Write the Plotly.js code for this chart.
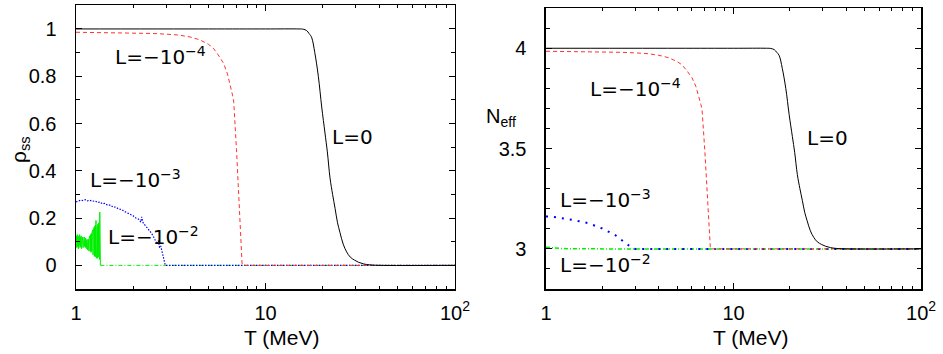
<!DOCTYPE html>
<html><head><meta charset="utf-8">
<script src="https://cdn.plot.ly/plotly-3.0.1.min.js"></script>
<style>html,body{margin:0;padding:0;background:#fff}</style>
</head><body><div id="chart" style="width:943px;height:354px"></div>
<script>
// ---- Left panel: rho_ss vs T ----
const blackT   = [1, 5, 10, 15, 15.8, 16.5, 17.0, 17.5, 18.2, 19.0, 19.8, 20.6, 21.2, 21.9, 22.6, 23.3, 24.0, 24.7, 25.7, 26.8, 28, 29.5, 31, 33, 35.6, 40, 100];
const blackRho = [1.0, 1.0, 1.0, 1.0, 0.999, 0.993, 0.98, 0.965, 0.9, 0.8, 0.67, 0.56, 0.48, 0.37, 0.30, 0.24, 0.18, 0.14, 0.09, 0.057, 0.035, 0.022, 0.013, 0.006, 0.002, 0, 0];

const redT   = [1.0, 1.5, 2.0, 2.5, 3.0, 3.5, 4.0, 4.5, 5.0, 5.3, 5.6, 6.0, 6.3, 6.5, 6.7, 6.8, 6.9, 6.96, 7.03, 7.1, 7.16, 7.22, 7.28, 7.34, 7.40, 7.46, 7.52, 7.56, 10, 20, 50, 100];
const redRho = [0.986, 0.985, 0.983, 0.981, 0.978, 0.974, 0.966, 0.954, 0.935, 0.919, 0.893, 0.855, 0.81, 0.77, 0.72, 0.69, 0.62, 0.56, 0.49, 0.42, 0.35, 0.28, 0.21, 0.14, 0.08, 0.04, 0.01, 0, 0, 0, 0, 0];

const blueT   = [1.00, 1.03, 1.06, 1.09, 1.12, 1.15, 1.18, 1.22, 1.26, 1.30, 1.34, 1.38, 1.42, 1.47, 1.52, 1.57, 1.62, 1.68, 1.74, 1.80, 1.87, 1.94, 2.00, 2.07, 2.14, 2.20, 2.22, 2.26, 2.32, 2.40, 2.48, 2.55, 2.60, 2.64, 2.68, 2.72, 2.76, 2.80, 2.84, 2.87, 2.90, 2.93, 2.96, 3.2, 5, 10, 100];
const blueRho = [0.268, 0.272, 0.276, 0.274, 0.278, 0.273, 0.276, 0.271, 0.273, 0.266, 0.268, 0.260, 0.262, 0.254, 0.255, 0.246, 0.247, 0.238, 0.236, 0.228, 0.222, 0.214, 0.210, 0.200, 0.195, 0.183, 0.205, 0.180, 0.170, 0.155, 0.140, 0.125, 0.112, 0.095, 0.090, 0.105, 0.075, 0.082, 0.060, 0.040, 0.020, 0.005, 0, 0, 0, 0, 0];

const greenT = [1.000,1.005,1.010,1.015,1.020,1.025,1.030,1.035,1.040,1.045,1.050,1.055,1.060,1.065,1.070,1.075,1.080,1.085,1.090,1.095,1.100,1.105,1.110,1.115,1.120,1.125,1.130,1.135,1.140,1.145,1.150,1.155,1.160,1.165,1.170,1.175,1.180,1.185,1.190,1.195,1.200,1.205,1.210,1.215,1.220,1.225,1.230,1.235,1.240,1.245,1.250,1.255,1.260,1.265,1.270,1.275,1.280,1.285,1.290,1.295,1.300,1.305,1.310,1.315,1.320,1.325,1.330,1.335,1.340,1.345,1.5,2,3,5,10,20,50,100];
const greenRho = [0.10,0.125,0.075,0.13,0.08,0.12,0.07,0.125,0.085,0.13,0.075,0.12,0.08,0.125,0.07,0.115,0.08,0.12,0.075,0.115,0.085,0.12,0.08,0.11,0.075,0.115,0.08,0.105,0.07,0.11,0.065,0.105,0.07,0.11,0.06,0.12,0.065,0.125,0.06,0.13,0.055,0.135,0.06,0.14,0.05,0.15,0.045,0.145,0.05,0.16,0.04,0.165,0.035,0.17,0.04,0.19,0.03,0.17,0.04,0.165,0.03,0.175,0.035,0.18,0.03,0.17,0.025,0.225,0.02,0,0,0,0,0,0,0,0,0];
const greenNoisyCount = 70; // points belonging to the oscillating part

// ---- Right panel: N_eff vs T ----
const blackT2 = [1, 5, 10, 15, 15.8, 16.5, 17.0, 17.5, 18.2, 19.0, 19.8, 20.6, 21.2, 21.9, 22.6, 23.3, 24.0, 24.7, 25.7, 26.8, 28, 29.5, 31, 33, 35.6, 40, 100];
const blackN  = [4.0, 4.0, 4.0, 4.0, 3.999, 3.993, 3.98, 3.965, 3.9, 3.8, 3.67, 3.56, 3.48, 3.37, 3.30, 3.24, 3.18, 3.14, 3.09, 3.057, 3.035, 3.022, 3.013, 3.006, 3.002, 3.0, 3.0];

const redT2 = [1.0, 1.5, 2.0, 2.5, 3.0, 3.5, 4.0, 4.5, 5.0, 5.3, 5.6, 6.0, 6.3, 6.5, 6.7, 6.8, 6.9, 6.96, 7.03, 7.1, 7.16, 7.22, 7.28, 7.34, 7.40, 7.46, 7.52, 7.56, 10, 20, 50, 100];
const redN  = [3.985, 3.984, 3.982, 3.98, 3.977, 3.973, 3.965, 3.953, 3.934, 3.918, 3.892, 3.854, 3.81, 3.77, 3.72, 3.69, 3.62, 3.56, 3.49, 3.42, 3.35, 3.28, 3.21, 3.14, 3.08, 3.04, 3.01, 3.0, 3.0, 3.0, 3.0, 3.0];

const blueT2 = [1.0, 1.07, 1.2, 1.4, 1.68, 1.98, 2.33, 2.69, 2.9, 3.0, 5, 10, 100];
const blueN  = [3.162, 3.161, 3.154, 3.144, 3.128, 3.103, 3.07, 3.028, 3.002, 3.0, 3.0, 3.0, 3.0];

const greenT2 = [1.0, 1.05, 1.1, 1.2, 1.3, 1.5, 2, 5, 10, 100];
const greenN  = [3.008, 3.006, 3.004, 3.002, 3.001, 3.0, 3.0, 3.0, 3.0, 3.0];

const xTickVals = [1, 10, 100];
const xTickText = ['1', '10', '10<sup>2</sup>'];
const xMinorVals = [2,3,4,5,6,7,8,9,20,30,40,50,60,70,80,90];

const RED = '#ff3030', BLUE = '#0000ff', GREEN = '#00ee00';

const traces = [
  {x: greenT.slice(0, greenNoisyCount), y: greenRho.slice(0, greenNoisyCount), xaxis:'x', yaxis:'y', mode:'lines', line:{color:GREEN, width:1}},
  {x: greenT.slice(greenNoisyCount-1), y: greenRho.slice(greenNoisyCount-1), xaxis:'x', yaxis:'y', mode:'lines', line:{color:GREEN, width:1, dash:'4px,2px,1px,2px'}},
  {x: blueT, y: blueRho, xaxis:'x', yaxis:'y', mode:'lines', line:{color:BLUE, width:1.2, dash:'1.5px,1.5px'}},
  {x: redT, y: redRho, xaxis:'x', yaxis:'y', mode:'lines', line:{color:RED, width:1, dash:'4px,3px'}},
  {x: blackT, y: blackRho, xaxis:'x', yaxis:'y', mode:'lines', line:{color:'#000', width:1, shape:'spline'}},

  {x: greenT2, y: greenN, xaxis:'x2', yaxis:'y2', mode:'lines', line:{color:GREEN, width:1.5, dash:'4px,2px,1px,2px'}},
  {x: blueT2, y: blueN, xaxis:'x2', yaxis:'y2', mode:'lines', line:{color:BLUE, width:2, dash:'2px,6px'}},
  {x: redT2, y: redN, xaxis:'x2', yaxis:'y2', mode:'lines', line:{color:RED, width:1, dash:'4px,3px'}},
  {x: blackT2, y: blackN, xaxis:'x2', yaxis:'y2', mode:'lines', line:{color:'#000', width:1, shape:'spline'}}
];

const FONT = 'Liberation Sans, Arial, Helvetica, sans-serif';
const LFONT = 'DejaVu Sans, sans-serif';
const tickFont = {family: FONT, size: 20, color:'#000'};

function xAxis(domain, anchor) {
  return {domain: domain, anchor: anchor, type:'log', range:[0,2], tickmode:'array', tickvals:xTickVals, ticktext:xTickText,
    ticks:'inside', ticklen:6, tickwidth:1, tickcolor:'#000', mirror:'allticks', showline:true, linecolor:'#000', linewidth:1.5,
    showgrid:false, zeroline:false, tickfont:tickFont, ticklabelstandoff:5,
    minor:{tickmode:'array', tickvals:xMinorVals, ticks:'inside', ticklen:3, tickcolor:'#000', showgrid:false}};
}

const lab = (xr, yr, x, y, t) => ({xref:xr, yref:yr, x:x, y:y, text:t, showarrow:false, xanchor:'left', yanchor:'middle', font:{family:LFONT, size:20, color:'#000'}});

const layout = {
  width:943, height:354, margin:{l:0, r:0, t:0, b:0}, showlegend:false,
  paper_bgcolor:'#fff', plot_bgcolor:'#fff', font:{family:FONT, color:'#000'},
  xaxis: xAxis([0.0806, 0.4825], 'y'),
  xaxis2: xAxis([0.579, 0.9767], 'y2'),
  yaxis: {domain:[0.1836, 0.985], anchor:'x', range:[-0.1, 1.1], tickmode:'linear', tick0:0, dtick:0.2,
    ticks:'inside', ticklen:6, tickcolor:'#000', mirror:'allticks', showline:true, linecolor:'#000', linewidth:1.5,
    showgrid:false, zeroline:false, tickfont:tickFont, ticklabelstandoff:14,
    minor:{dtick:0.1, ticks:'inside', ticklen:4, tickcolor:'#000', showgrid:false}},
  yaxis3: {overlaying:'y', anchor:'x', side:'left', range:[-0.1, 1.1], tickmode:'linear', tick0:0, dtick:0.02,
    ticks:'inside', ticklen:2, tickcolor:'#000', showticklabels:false, showline:false, showgrid:false, zeroline:false},
  yaxis2: {domain:[0.1836, 0.977], anchor:'x2', range:[2.8, 4.2], tickmode:'array', tickvals:[3, 3.5, 4], ticktext:['3','3.5','4'],
    ticks:'inside', ticklen:6, tickcolor:'#000', mirror:'allticks', showline:true, linecolor:'#000', linewidth:1.5,
    showgrid:false, zeroline:false, tickfont:tickFont, ticklabelstandoff:14,
    minor:{tickmode:'linear', tick0:2.8, dtick:0.1, ticks:'inside', ticklen:4, tickcolor:'#000', showgrid:false}},
  annotations: [
    lab('x', 'y', 0.195, 0.885, 'L=−10<sup>−4</sup>'),
    lab('x', 'y', 1.340, 0.544, 'L=0'),
    lab('x', 'y', 0.063, 0.365, 'L=−10<sup>−3</sup>'),
    lab('x', 'y', 0.158, 0.125, 'L=−10<sup>−2</sup>'),
    lab('x2', 'y2', 0.224, 3.80, 'L=−10<sup>−4</sup>'),
    lab('x2', 'y2', 1.381, 3.552, 'L=0'),
    lab('x2', 'y2', 0.064, 3.25, 'L=−10<sup>−3</sup>'),
    lab('x2', 'y2', 0.064, 2.925, 'L=−10<sup>−2</sup>'),
    {xref:'paper', yref:'paper', x:281/943, y:1-337/354, text:'T (MeV)', showarrow:false, xanchor:'center', yanchor:'middle', font:{family:FONT, size:21}},
    {xref:'paper', yref:'paper', x:750/943, y:1-337/354, text:'T (MeV)', showarrow:false, xanchor:'center', yanchor:'middle', font:{family:FONT, size:21}},
    {xref:'paper', yref:'paper', x:20/943, y:1-150/354, text:'ρ<sub>ss</sub>', textangle:-90, showarrow:false, xanchor:'center', yanchor:'middle', font:{family:FONT, size:21}},
    {xref:'paper', yref:'paper', x:484/943, y:1-118/354, text:'N<sub>eff</sub>', showarrow:false, xanchor:'left', yanchor:'middle', font:{family:FONT, size:20}}
  ]
};

Plotly.newPlot('chart', traces, layout, {staticPlot:true, displayModeBar:false});
</script>
</body></html>
